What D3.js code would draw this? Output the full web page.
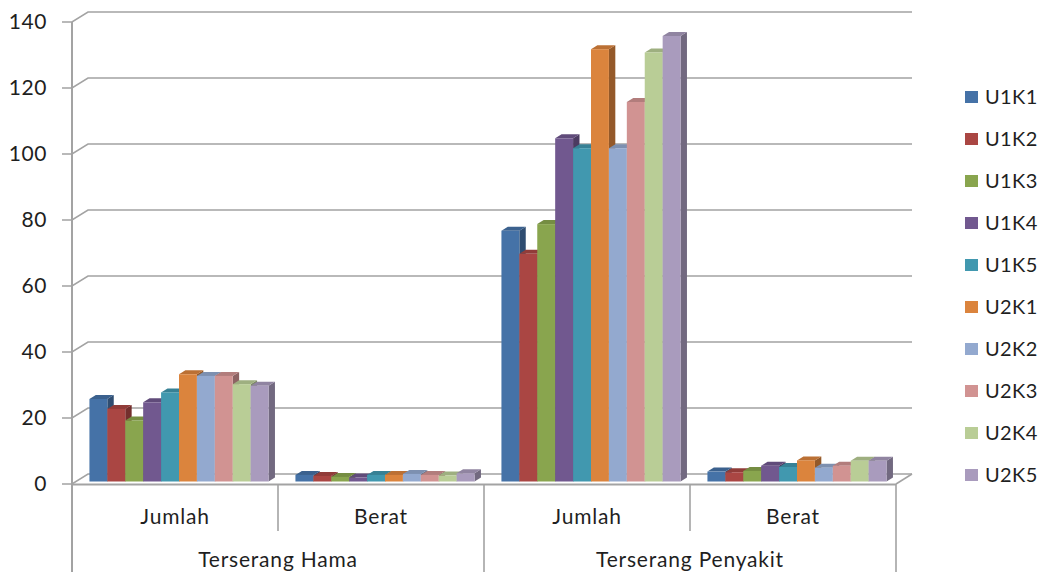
<!DOCTYPE html>
<html>
<head>
<meta charset="utf-8">
<script src="https://cdn.jsdelivr.net/npm/d3@7"></script>
<style>
  html, body { margin: 0; padding: 0; background: #fff; }
  svg { display: block; font-family: "Lato", "Open Sans", sans-serif; }
</style>
</head>
<body>
<svg id="chart" width="1043" height="572"></svg>
<script>
// Category labels (inner row) and group labels (outer row)
const categories = ["Jumlah", "Berat", "Jumlah", "Berat"];
const groups = ["Terserang Hama", "Terserang Penyakit"];
const seriesNames = ["U1K1", "U1K2", "U1K3", "U1K4", "U1K5", "U2K1", "U2K2", "U2K3", "U2K4", "U2K5"];
const seriesColors = ["#4572A7", "#AA4643", "#89A54E", "#71588F", "#4198AF",
                      "#DB843D", "#93A9CF", "#D19392", "#B9CD96", "#A99BBD"];
const yTicks = [0, 20, 40, 60, 80, 100, 120, 140];

// Values per category, one entry per series (U1K1 ... U2K5)
const hamaJumlah     = [25, 22, 18.5, 24, 27, 32.5, 32, 32, 29.5, 29];
const hamaBerat      = [2.0, 1.7, 1.4, 1.2, 2.0, 2.0, 2.3, 2.0, 1.8, 2.5];
const penyakitJumlah = [76, 69, 78, 104, 101, 131, 101, 115, 130, 135];
const penyakitBerat  = [3.0, 2.8, 3.2, 4.8, 4.4, 6.4, 4.2, 4.8, 6.3, 6.3];

const valuesByCategory = [hamaJumlah, hamaBerat, penyakitJumlah, penyakitBerat];

const svg = d3.select("#chart");

// Plot frame (front plane) and oblique depth offset toward the back wall
const plotLeft = 72, plotRight = 896, plotBottom = 484, plotTop = 22;
const DX = 16, DY = -10;                 // full depth offset (front -> back wall)
const barFront = 0.25, barBack = 0.65;   // bar depth as fraction of full depth

const y = d3.scaleLinear().domain([0, 140]).range([plotBottom, plotTop]);
const x0 = d3.scaleBand().domain(d3.range(categories.length)).range([plotLeft, plotRight]).padding(0);
const x1 = d3.scaleBand().domain(d3.range(seriesNames.length))
  .range([0, x0.bandwidth()]).paddingOuter(0.75).paddingInner(0);

const proj = (px, py, f) => [px + f * DX, py + f * DY];
const gridColor = "#A3A3A3";
const textColor = "#1f1f1f";

// Back-wall gridlines with left side-wall segment and tick marks
const grid = svg.append("g");
yTicks.forEach(t => {
  const yf = y(t);
  const [bx, by] = proj(plotLeft, yf, 1);
  grid.append("path")
    .attr("d", `M${plotLeft - 10},${yf} L${plotLeft},${yf} L${bx},${by} L${plotRight + DX},${by}`)
    .attr("fill", "none").attr("stroke", gridColor).attr("stroke-width", 1.6);
});

// Floor right edge
grid.append("line")
  .attr("x1", plotRight).attr("y1", plotBottom)
  .attr("x2", plotRight + DX).attr("y2", plotBottom + DY)
  .attr("stroke", gridColor).attr("stroke-width", 1.6);

// Y tick labels
svg.append("g").selectAll("text").data(yTicks).join("text")
  .attr("x", 47).attr("y", d => y(d)).attr("dy", "0.35em")
  .attr("text-anchor", "end").attr("font-size", 21).attr("fill", textColor)
  .attr("letter-spacing", 0.6)
  .text(d => d);

// 3D bars
const bars = svg.append("g");
valuesByCategory.forEach((vals, ci) => {
  vals.forEach((v, si) => {
    const xl = x0(ci) + x1(si);
    const xr = xl + x1.bandwidth();
    const yb = y(0), yt = y(v);
    const c = d3.color(seriesColors[si]);
    const P = (px, py, f) => proj(px, py, f).join(",");
    const g = bars.append("g");
    // right side face
    g.append("polygon")
      .attr("points", [P(xr, yt, barFront), P(xr, yt, barBack), P(xr, yb, barBack), P(xr, yb, barFront)].join(" "))
      .attr("fill", c.darker(1.1));
    // top face
    g.append("polygon")
      .attr("points", [P(xl, yt, barFront), P(xl, yt, barBack), P(xr, yt, barBack), P(xr, yt, barFront)].join(" "))
      .attr("fill", c.darker(0.45));
    // front face
    const [fx, fy] = proj(xl, yt, barFront);
    g.append("rect")
      .attr("x", fx).attr("y", fy)
      .attr("width", xr - xl).attr("height", yb - yt)
      .attr("fill", c);
  });
});

// Front floor edge / category axis line
svg.append("line")
  .attr("x1", plotLeft).attr("y1", plotBottom + 0.5).attr("x2", plotRight).attr("y2", plotBottom + 0.5)
  .attr("stroke", gridColor).attr("stroke-width", 2.2);

// Vertical value axis line (extends through the category label area)
svg.append("line")
  .attr("x1", plotLeft).attr("y1", plotTop).attr("x2", plotLeft).attr("y2", 572)
  .attr("stroke", gridColor).attr("stroke-width", 2);

// Category separators
const axisG = svg.append("g");
d3.range(categories.length + 1).forEach(i => {
  const xs = i < categories.length ? x0(i) : plotRight;
  const major = i % 2 === 0;
  axisG.append("line")
    .attr("x1", xs).attr("x2", xs)
    .attr("y1", plotBottom).attr("y2", major ? 572 : 531)
    .attr("stroke", gridColor).attr("stroke-width", 1.6);
});

// Inner category labels
axisG.selectAll("text.cat").data(categories).join("text")
  .attr("class", "cat")
  .attr("x", (d, i) => x0(i) + x0.bandwidth() / 2)
  .attr("y", 517).attr("dy", "0.35em")
  .attr("text-anchor", "middle").attr("font-size", 21).attr("fill", textColor)
  .attr("letter-spacing", 0.8)
  .text(d => d);

// Outer group labels
axisG.selectAll("text.grp").data(groups).join("text")
  .attr("class", "grp")
  .attr("x", (d, i) => x0(i * 2) + x0.bandwidth())
  .attr("y", 560).attr("dy", "0.35em")
  .attr("text-anchor", "middle").attr("font-size", 21).attr("fill", textColor)
  .attr("letter-spacing", 0.8)
  .text(d => d);

// Legend
const legend = svg.append("g");
seriesNames.forEach((name, i) => {
  const ly = 97 + i * 42;
  legend.append("rect")
    .attr("x", 965).attr("y", ly - 6).attr("width", 13).attr("height", 12)
    .attr("fill", seriesColors[i]);
  legend.append("text")
    .attr("x", 985).attr("y", ly).attr("dy", "0.35em")
    .attr("font-size", 20).attr("fill", textColor)
    .attr("letter-spacing", 0.4)
    .text(name);
});
</script>
</body>
</html>
